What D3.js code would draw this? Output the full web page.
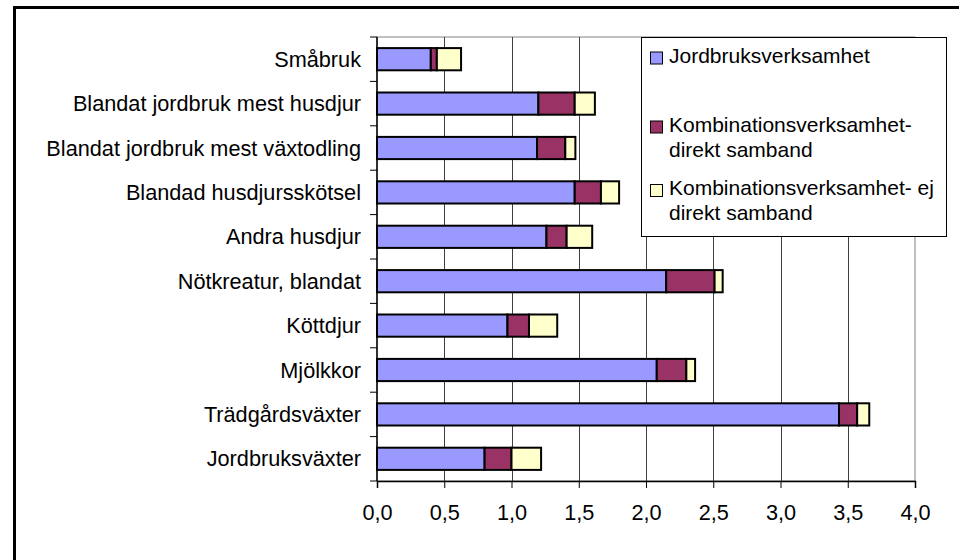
<!DOCTYPE html>
<html>
<head>
<meta charset="utf-8">
<script src="https://cdn.jsdelivr.net/npm/d3@7/dist/d3.min.js"></script>
<style>
  html, body { margin: 0; padding: 0; background: #fff; }
  svg { display: block; }
  text { font-family: "Liberation Sans", Arial, sans-serif; fill: #000; }
</style>
</head>
<body>
<svg id="chart" width="959" height="560"></svg>
<script>
const categories = [
  "Småbruk",
  "Blandat jordbruk mest husdjur",
  "Blandat jordbruk mest växtodling",
  "Blandad husdjursskötsel",
  "Andra husdjur",
  "Nötkreatur, blandat",
  "Köttdjur",
  "Mjölkkor",
  "Trädgårdsväxter",
  "Jordbruksväxter"
];
const jordbruk = [0.40, 1.20, 1.19, 1.47, 1.26, 2.15, 0.97, 2.08, 3.435, 0.80];
const kombDirekt = [0.045, 0.27, 0.21, 0.195, 0.15, 0.36, 0.16, 0.22, 0.135, 0.20];
const kombEj = [0.18, 0.15, 0.075, 0.135, 0.19, 0.06, 0.21, 0.065, 0.09, 0.22];
const seriesNames = [
  ["Jordbruksverksamhet"],
  ["Kombinationsverksamhet-", "direkt samband"],
  ["Kombinationsverksamhet- ej", "direkt samband"]
];
const colors = ["#9999FF", "#993366", "#FFFFCC"];
const xTicks = [0, 0.5, 1, 1.5, 2, 2.5, 3, 3.5, 4];

const svg = d3.select("#chart");
const FS = 21.7;

// outer frame
svg.append("rect")
  .attr("x", 14.5).attr("y", 7.5)
  .attr("width", 980).attr("height", 600)
  .attr("fill", "#fff").attr("stroke", "#000").attr("stroke-width", 3);

const x = d3.scaleLinear().domain([0, 4]).range([377, 915]);
const y = d3.scaleBand().domain(categories).range([37, 481]).paddingInner(0.5).paddingOuter(0.25);

// plot area border
svg.append("rect")
  .attr("x", x(0)).attr("y", 37)
  .attr("width", x(4) - x(0)).attr("height", 481 - 37)
  .attr("fill", "none").attr("stroke", "#808080").attr("stroke-width", 1);

// gridlines
svg.append("g").selectAll("line").data(xTicks.slice(1, -1)).join("line")
  .attr("x1", d => Math.round(x(d)) + 0.5).attr("x2", d => Math.round(x(d)) + 0.5)
  .attr("y1", 37).attr("y2", 481)
  .attr("stroke", "#404040").attr("stroke-width", 1);

// stacked data
const rows = categories.map((c, i) => ({ cat: c, vals: [jordbruk[i], kombDirekt[i], kombEj[i]] }));
const stack = d3.stack().keys([0, 1, 2]).value((d, k) => d.vals[k]);
const stacked = stack(rows);

svg.append("g").selectAll("g").data(stacked).join("g")
  .attr("fill", (d, i) => colors[i])
  .selectAll("rect").data(d => d).join("rect")
  .attr("x", d => x(d[0]))
  .attr("y", d => y(d.data.cat))
  .attr("width", d => x(d[1]) - x(d[0]))
  .attr("height", y.bandwidth())
  .attr("stroke", "#000").attr("stroke-width", 2);

// x axis
const xAxis = d3.axisBottom(x).tickValues(xTicks).tickSize(7).tickPadding(17)
  .tickFormat(d => d3.format(".1f")(d).replace(".", ","));
const gx = svg.append("g").attr("transform", "translate(0,481)").call(xAxis);
gx.select(".domain").attr("stroke", "#000").attr("stroke-width", 1.5);
gx.selectAll(".tick line").attr("stroke", "#000");
gx.selectAll("text").attr("font-size", FS).attr("font-family", "Liberation Sans, Arial, sans-serif");

// y axis
const gy = svg.append("g");
gy.append("line").attr("x1", x(0)).attr("x2", x(0)).attr("y1", 37).attr("y2", 481)
  .attr("stroke", "#000").attr("stroke-width", 1.5);
gy.selectAll("line.t").data(d3.range(categories.length + 1)).join("line")
  .attr("class", "t")
  .attr("x1", x(0) - 7).attr("x2", x(0))
  .attr("y1", i => 37 + i * y.step()).attr("y2", i => 37 + i * y.step())
  .attr("stroke", "#000").attr("stroke-width", 1);
gy.selectAll("text").data(categories).join("text")
  .attr("x", x(0) - 16)
  .attr("y", d => y(d) + y.bandwidth() / 2)
  .attr("dy", "0.35em")
  .attr("text-anchor", "end")
  .attr("font-size", FS)
  .text(d => d);

// legend
const lg = svg.append("g");
lg.append("rect").attr("x", 641.5).attr("y", 37.5).attr("width", 305).attr("height", 199)
  .attr("fill", "#fff").attr("stroke", "#000").attr("stroke-width", 1);
const legendBase = [62.5, 131.5, 195];
const lineH = 25;
seriesNames.forEach((lines, i) => {
  lg.append("rect")
    .attr("x", 650.5).attr("y", legendBase[i] - 10.5)
    .attr("width", 12).attr("height", 12)
    .attr("fill", colors[i]).attr("stroke", "#000").attr("stroke-width", 1);
  lines.forEach((t, j) => {
    lg.append("text")
      .attr("x", 669).attr("y", legendBase[i] + j * lineH)
      .attr("font-size", 21)
      .text(t);
  });
});
</script>
</body>
</html>
